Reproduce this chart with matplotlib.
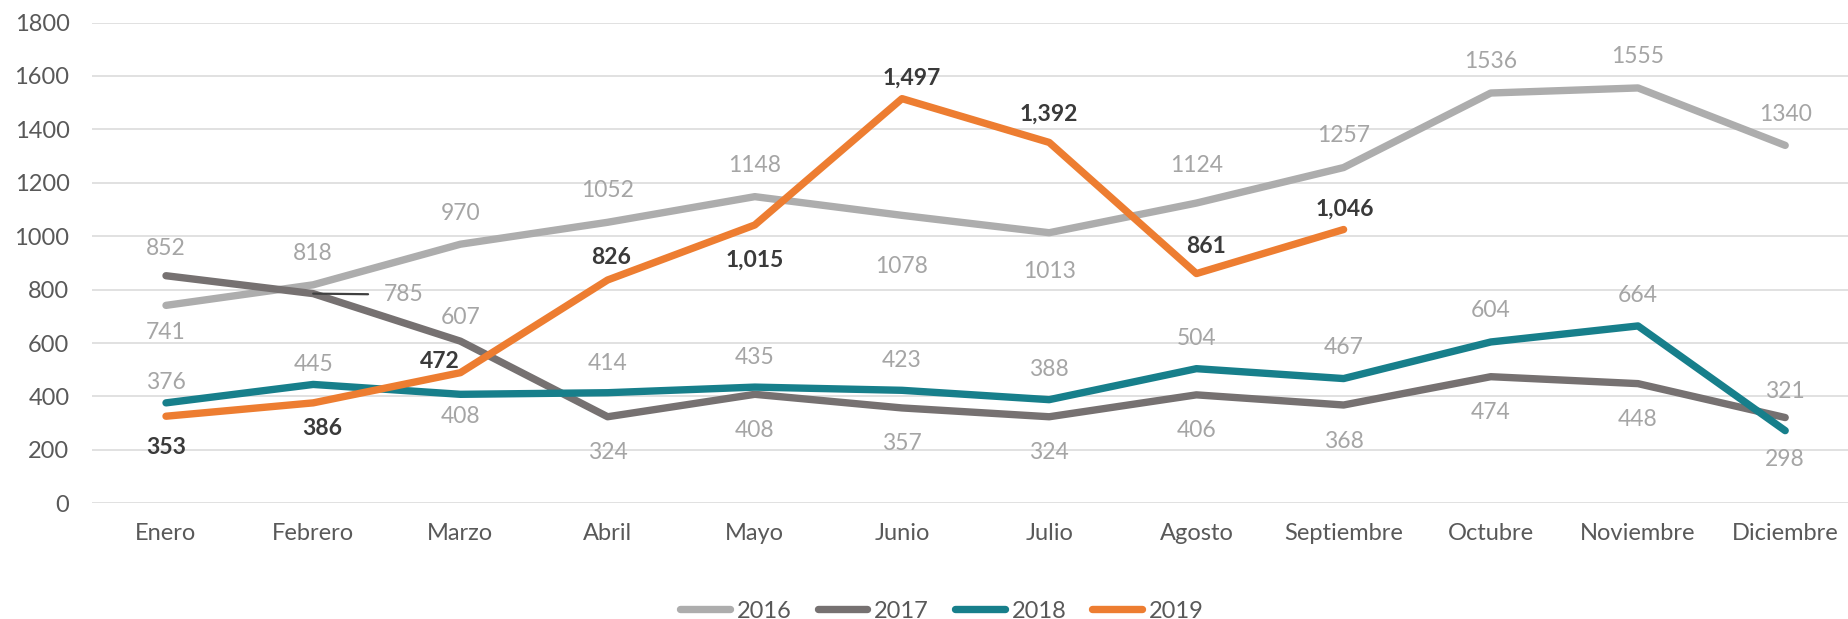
import matplotlib
matplotlib.use("Agg")
import matplotlib.pyplot as plt
from matplotlib.lines import Line2D

# ---------------- data ----------------
months = ['Enero', 'Febrero', 'Marzo', 'Abril', 'Mayo', 'Junio', 'Julio',
          'Agosto', 'Septiembre', 'Octubre', 'Noviembre', 'Diciembre']
years = ['2016', '2017', '2018', '2019']

v2016 = [741, 818, 970, 1052, 1148, 1078, 1013, 1124, 1257, 1536, 1555, 1340]
v2017 = [852, 785, 607, 324, 408, 357, 324, 406, 368, 474, 448, 321]
v2018 = [376, 445, 408, 414, 435, 423, 388, 504, 467, 604, 664, 272]
v2019 = [326, 376, 489, 836, 1042, 1515, 1351, 860, 1025]

lab2016 = ['741', '818', '970', '1052', '1148', '1078', '1013', '1124', '1257', '1536', '1555', '1340']
lab2017 = ['852', '785', '607', '324', '408', '357', '324', '406', '368', '474', '448', '321']
lab2018 = ['376', '445', '408', '414', '435', '423', '388', '504', '467', '604', '664', '298']
lab2019 = ['353', '386', '472', '826', '1,015', '1,497', '1,392', '861', '1,046']

yticks = [0, 200, 400, 600, 800, 1000, 1200, 1400, 1600, 1800]

# ---------------- layout / style ----------------
colors = ['#ADADAD', '#767171', '#177F8B', '#ED7D31']
# label offsets in pixels (dx, dy), positive dy = up
off2016 = [(0, -25), (0, 33), (0, 33), (0, 34), (0, 33), (0, -49), (0, -37),
           (0, 40), (0, 34), (0, 34), (0, 33), (0, 33)]
off2017 = [(0, 29), (90, 1), (0, 26), (0, -34), (0, -34), (0, -34), (0, -34),
           (0, -34), (0, -34), (0, -34), (0, -34), (0, 28)]
off2018 = [(0, 22), (0, 22), (0, -20), (0, 31), (0, 32), (0, 32), (0, 32),
           (0, 32), (0, 33), (0, 33), (0, 32), (0, -27)]
off2019 = [(0, -29), (9, -24), (-21, 13), (3, 24), (0, -33), (10, 22), (0, 30),
           (10, 29), (1, 22)]

W, H = 1849, 619
fig = plt.figure(figsize=(W / 100, H / 100), dpi=100)
plt.rcParams['font.family'] = ['Lato', 'DejaVu Sans']

left_px, right_px = 92.4, W
top_px, bottom_px = 22.5, 503.3
step_px = 147.2
ax = fig.add_axes([left_px / W, (H - bottom_px) / H,
                   (right_px - left_px) / W, (bottom_px - top_px) / H])

x = list(range(len(months)))
series = [v2016, v2017, v2018, v2019]
for vals, c, yr in zip(series, colors, years):
    ax.plot(x[:len(vals)], vals, color=c, lw=5.3, solid_capstyle='round',
            solid_joinstyle='round', label=yr, zorder=3)

ax.set_xlim(-0.5, -0.5 + (right_px - left_px) / step_px)
ax.set_ylim(0, 1800)
ax.set_yticks(yticks)
ax.set_yticklabels([str(t) for t in yticks])
ax.set_xticks(x)
ax.set_xticklabels(months)
ax.grid(axis='y', color='#D9D9D9', lw=1.1, zorder=0)
ax.grid(axis='x', visible=False)
for s in ax.spines.values():
    s.set_visible(False)
ax.tick_params(axis='y', length=0, labelsize=17, colors='#595959', pad=16.5)
ax.tick_params(axis='x', length=0, labelsize=17, colors='#595959', pad=14)

gray_txt = '#A5A5A5'
dark_txt = '#3A3A3A'


def put_labels(vals, labs, offs, color, weight):
    for i, (v, l, (dx, dy)) in enumerate(zip(vals, labs, offs)):
        ax.annotate(l, xy=(i, v), xytext=(dx, dy), textcoords='offset pixels',
                    ha='center', va='center_baseline', fontsize=16.5,
                    color=color, fontweight=weight, zorder=5)


put_labels(v2016, lab2016, off2016, gray_txt, 'normal')
# 2017 without the Febrero label (drawn with a leader line below)
for i, (v, l, (dx, dy)) in enumerate(zip(v2017, lab2017, off2017)):
    if i == 1:
        ax.annotate(l, xy=(i, v), xytext=(dx, dy), textcoords='offset pixels',
                    ha='center', va='center_baseline', fontsize=16.5,
                    color=gray_txt, zorder=5,
                    arrowprops=dict(arrowstyle='-', color='#404040', lw=1.6,
                                    shrinkA=9, shrinkB=0))
    else:
        ax.annotate(l, xy=(i, v), xytext=(dx, dy), textcoords='offset pixels',
                    ha='center', va='center_baseline', fontsize=16.5,
                    color=gray_txt, zorder=5)
put_labels(v2018, lab2018, off2018, gray_txt, 'normal')
put_labels(v2019, lab2019, off2019, dark_txt, 'bold')

handles = [Line2D([0], [0], color=c, lw=5.3, solid_capstyle='round') for c in colors]
fig.legend(handles, years, loc='center', bbox_to_anchor=(942 / W, (H - 611) / H),
           ncol=4, frameon=False, fontsize=17, handlelength=2.1,
           handletextpad=0.3, columnspacing=1.1, borderpad=0,
           labelcolor='#595959')

fig.savefig('out.png', dpi=100)
